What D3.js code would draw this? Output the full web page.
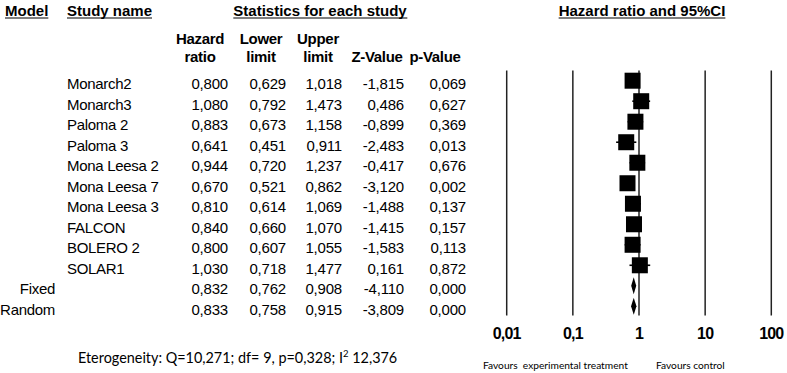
<!DOCTYPE html>
<html><head><meta charset="utf-8">
<script src="https://cdn.jsdelivr.net/npm/d3@7"></script>
<style>body{margin:0;background:#fff}svg{display:block}</style>
</head><body>
<svg id="c" width="787" height="373"></svg>
<script>
const studies = ["Monarch2","Monarch3","Paloma 2","Paloma 3","Mona Leesa 2","Mona Leesa 7","Mona Leesa 3","FALCON","BOLERO 2","SOLAR1"];
const models = ["Fixed","Random"];
const hr    = [0.800,1.080,0.883,0.641,0.944,0.670,0.810,0.840,0.800,1.030,0.832,0.833];
const lower = [0.629,0.792,0.673,0.451,0.720,0.521,0.614,0.660,0.607,0.718,0.762,0.758];
const upper = [1.018,1.473,1.158,0.911,1.237,0.862,1.069,1.070,1.055,1.477,0.908,0.915];
const zval  = [-1.815,0.486,-0.899,-2.483,-0.417,-3.120,-1.488,-1.415,-1.583,0.161,-4.110,-3.809];
const pval  = [0.069,0.627,0.369,0.013,0.676,0.002,0.137,0.157,0.113,0.872,0.000,0.000];
const ticks = [0.01,0.1,1,10,100];
const tickLabels = ["0,01","0,1","1","10","100"];

const svg = d3.select("#c");
const font = "'Liberation Sans', Arial, sans-serif";
const fmt = v => d3.format(".3f")(v).replace("\u2212", "-").replace(".", ",");

const rows = studies.concat(models);
const y = d3.scalePoint().domain(d3.range(rows.length)).range([82.7, 308.3]);
const x = d3.scaleLog().domain([0.01, 100]).range([506.7, 771.3]);

function uText(t, xx, yy, anchor) {
  const el = svg.append("text").attr("x", xx).attr("y", yy).attr("text-anchor", anchor||"start")
    .attr("font-family", font).attr("font-weight", "bold").attr("font-size", 15).text(t);
  const bb = el.node().getBBox();
  svg.append("line").attr("x1", bb.x).attr("x2", bb.x + bb.width).attr("y1", yy + 2.5).attr("y2", yy + 2.5)
    .attr("stroke", "#000").attr("stroke-width", 1.2);
}
uText("Model", 5, 15.5);
uText("Study name", 67, 15.5);
uText("Statistics for each study", 320, 15.5, "middle");
uText("Hazard ratio and 95%CI", 642, 15.5, "middle");

const colX = [228, 286, 342, 404, 466];
const hdr = [["Hazard","ratio",200],["Lower","limit",261],["Upper","limit",318],["","Z-Value",377],["","p-Value",435]];
hdr.forEach(h => {
  [h[0], h[1]].forEach((t, i) => {
    if (!t) return;
    svg.append("text").attr("x", h[2]).attr("y", i ? 61.7 : 44).attr("text-anchor", "middle")
      .attr("font-family", font).attr("font-weight", "bold").attr("font-size", 15)
      .attr("letter-spacing", -0.3).text(t);
  });
});

rows.forEach((r, i) => {
  const isModel = i >= studies.length;
  svg.append("text").attr("x", isModel ? 55 : 67).attr("y", y(i) + 6.3)
    .attr("text-anchor", isModel ? "end" : "start")
    .attr("font-family", font).attr("font-size", 15).attr("letter-spacing", -0.3).text(r);
  [hr[i], lower[i], upper[i], zval[i], pval[i]].forEach((v, j) => {
    svg.append("text").attr("x", colX[j]).attr("y", y(i) + 6.3).attr("text-anchor", "end")
      .attr("font-family", font).attr("font-size", 15).attr("letter-spacing", -0.2).text(fmt(v));
  });
});

ticks.forEach((t, k) => {
  svg.append("line").attr("x1", x(t)).attr("x2", x(t)).attr("y1", 70.5).attr("y2", 315.5)
    .attr("stroke", "#222").attr("stroke-width", 1.5);
  svg.append("text").attr("x", x(t)).attr("y", 339).attr("text-anchor", "middle")
    .attr("font-family", font).attr("font-weight", "bold").attr("font-size", 16)
    .attr("letter-spacing", -0.8).text(tickLabels[k]);
});

const off = -2;
studies.forEach((s, i) => {
  const cy = y(i) + off;
  svg.append("line").attr("x1", x(lower[i])).attr("x2", x(upper[i])).attr("y1", cy).attr("y2", cy)
    .attr("stroke", "#000").attr("stroke-width", 1.6);
  svg.append("rect").attr("x", x(hr[i]) - 8).attr("y", cy - 8).attr("width", 16).attr("height", 16).attr("fill", "#000");
});
models.forEach((m, k) => {
  const i = studies.length + k;
  const cy = y(i) + off;
  const pts = [[x(lower[i]), cy], [x(hr[i]), cy - 8.5], [x(upper[i]), cy], [x(hr[i]), cy + 8.5]];
  svg.append("path").attr("d", d3.line()(pts) + "Z").attr("fill", "#000");
});

const foot = svg.append("text").attr("x", 78).attr("y", 363).attr("font-family", "Lato, 'Open Sans', sans-serif").attr("font-size", 14.4);
foot.append("tspan").text("Eterogeneity: Q=10,271; df= 9, p=0,328; I");
foot.append("tspan").attr("font-size", 9.5).attr("dy", -6).text("2");
foot.append("tspan").attr("dy", 6).text(" 12,376");

svg.append("text").attr("x", 483).attr("y", 369).attr("font-family", "Lato, 'Open Sans', sans-serif").attr("font-size", 10.2)
  .style("white-space", "pre").text("Favours  experimental treatment");
svg.append("text").attr("x", 656).attr("y", 369).attr("font-family", "Lato, 'Open Sans', sans-serif").attr("font-size", 10.2)
  .text("Favours control");
</script>
</body></html>
